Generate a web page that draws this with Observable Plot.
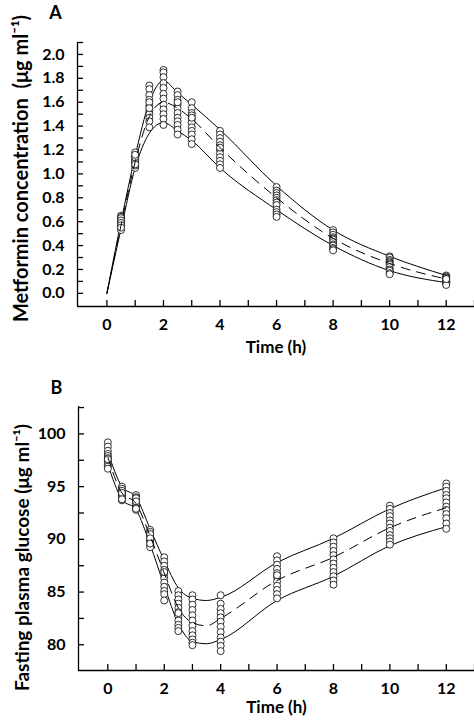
<!DOCTYPE html>
<html><head><meta charset="utf-8">
<script src="https://cdn.jsdelivr.net/npm/d3@7"></script>
<script src="https://cdn.jsdelivr.net/npm/@observablehq/plot@0.6"></script>
<style>
body{margin:0;background:#fff;}
#chart{position:relative;width:474px;height:722px;background:#fff;}
#chart svg{display:block;}
</style></head><body><div id="chart"></div>
<script>
// ---------- Panel A : metformin concentration ----------
const timesA = [0.5, 1, 1.5, 2, 2.5, 3, 4, 6, 8, 10, 12];
const concA = [
  [0.65, 0.64, 0.62, 0.60, 0.58, 0.56, 0.53, 0.63, 0.61, 0.59, 0.57, 0.55],
  [1.18, 1.15, 1.13, 1.11, 1.09, 1.05, 1.12, 1.10, 1.14, 1.07, 1.16, 1.08],
  [1.74, 1.71, 1.66, 1.62, 1.57, 1.53, 1.50, 1.47, 1.44, 1.39, 1.60, 1.55],
  [1.87, 1.85, 1.81, 1.76, 1.72, 1.67, 1.63, 1.58, 1.54, 1.50, 1.46, 1.41],
  [1.69, 1.66, 1.62, 1.58, 1.55, 1.51, 1.47, 1.44, 1.41, 1.37, 1.33, 1.60],
  [1.60, 1.55, 1.51, 1.49, 1.46, 1.43, 1.39, 1.36, 1.33, 1.29, 1.25, 1.47],
  [1.36, 1.33, 1.30, 1.27, 1.24, 1.20, 1.17, 1.14, 1.11, 1.08, 1.05, 1.22],
  [0.89, 0.86, 0.84, 0.82, 0.80, 0.78, 0.76, 0.74, 0.70, 0.68, 0.66, 0.64],
  [0.53, 0.51, 0.49, 0.47, 0.46, 0.45, 0.43, 0.41, 0.40, 0.38, 0.37, 0.36],
  [0.31, 0.30, 0.28, 0.27, 0.26, 0.25, 0.24, 0.22, 0.20, 0.19, 0.17, 0.16],
  [0.15, 0.14, 0.13, 0.13, 0.12, 0.11, 0.10, 0.10, 0.09, 0.08, 0.07, 0.12]
];
const lineTimesA = [0, 0.5, 1, 1.5, 2, 2.5, 3, 4, 6, 8, 10, 12];
const upperA = [0, 0.60, 1.15, 1.60, 1.78, 1.68, 1.58, 1.37, 0.90, 0.53, 0.31, 0.15];
const meanA  = [0, 0.57, 1.10, 1.48, 1.60, 1.55, 1.46, 1.22, 0.80, 0.46, 0.25, 0.12];
const lowerA = [0, 0.54, 1.05, 1.34, 1.43, 1.36, 1.28, 1.05, 0.70, 0.40, 0.19, 0.09];
const yTicksA = [0, 0.2, 0.4, 0.6, 0.8, 1.0, 1.2, 1.4, 1.6, 1.8, 2.0];
const yMinorA = [0, 0.1, 0.2, 0.3, 0.4, 0.5, 0.6, 0.7, 0.8, 0.9, 1.0, 1.1, 1.2, 1.3, 1.4, 1.5, 1.6, 1.7, 1.8, 1.9, 2.0, 2.1];
const yDomainA = [-0.11, 2.1];
const yLabelA = "Metformin concentration  (μg ml\u207B\u00B9)";

// ---------- Panel B : fasting plasma glucose ----------
const timesB = [0, 0.5, 1, 1.5, 2, 2.5, 3, 4, 6, 8, 10, 12];
const glucB = [
  [99.2, 98.8, 98.4, 98.1, 97.9, 97.7, 97.5, 97.3, 97.1, 96.9, 96.7, 97.6],
  [95.0, 94.8, 94.5, 94.3, 94.1, 93.9, 93.7, 94.6, 94.2, 94.0, 94.4, 93.8],
  [94.2, 94.0, 93.7, 93.5, 93.3, 93.1, 92.8, 93.9, 93.4, 93.0, 93.6, 92.9],
  [90.9, 90.7, 90.4, 90.2, 90.0, 89.8, 89.5, 89.25, 90.5, 89.9, 90.1, 89.6],
  [88.3, 87.9, 87.5, 87.1, 86.7, 86.3, 85.9, 85.5, 85.1, 84.8, 84.2, 86.9],
  [85.1, 84.7, 84.3, 83.9, 83.5, 83.1, 82.7, 82.3, 81.9, 81.6, 81.3, 83.0],
  [84.7, 84.3, 83.8, 83.3, 82.8, 82.3, 81.8, 81.3, 80.9, 80.5, 80.2, 79.96],
  [84.7, 83.9, 83.4, 83.0, 82.6, 82.2, 81.7, 81.2, 80.7, 80.3, 79.9, 79.4],
  [88.4, 88.0, 87.6, 87.2, 86.8, 86.4, 86.0, 85.6, 85.2, 84.8, 84.4, 86.6],
  [90.1, 89.7, 89.3, 88.9, 88.5, 88.1, 87.7, 87.3, 86.9, 86.5, 86.1, 85.7],
  [93.2, 92.9, 92.5, 92.2, 91.8, 91.5, 91.1, 90.8, 90.4, 90.1, 89.8, 89.5],
  [95.3, 95.0, 94.6, 94.2, 93.9, 93.5, 93.1, 92.8, 92.4, 92.0, 91.5, 91.0]
];
const lineTimesB = [0, 0.5, 1, 1.5, 2, 2.5, 3, 3.5, 4, 6, 8, 10, 12];
const upperB = [98.3, 95.0, 94.0, 91.0, 88.0, 85.4, 84.4, 84.2, 84.5, 87.8, 90.1, 92.9, 94.9];
const meanB  = [97.8, 94.4, 93.4, 90.3, 86.8, 83.5, 82.1, 81.8, 82.5, 86.1, 88.3, 91.1, 93.0];
const lowerB = [97.1, 93.8, 92.8, 89.5, 85.6, 82.0, 80.3, 80.1, 80.5, 84.2, 86.5, 89.4, 91.2];
const yTicksB = [80, 85, 90, 95, 100];
const yMinorB = [80, 82.5, 85, 87.5, 90, 92.5, 95, 97.5, 100, 102.5];
const yDomainB = [77.56, 102.6];
const yLabelB = "Fasting plasma glucose (μg ml\u207B\u00B9)";

// ---------- shared x axis ----------
const xTicks = [0, 2, 4, 6, 8, 10, 12];
const xMinor = [0, 1, 2, 3, 4, 5, 6, 7, 8, 9, 10, 11, 12, 13];
const xDomain = [-1.04, 13];
const xLabel = "Time (h)";

const FONT = "Lato, 'Open Sans', sans-serif";
const W = 474;

function panel(o) {
  const pts = o.times.flatMap((t, i) => o.vals[i].map(v => ({t, v})));
  const mk = arr => o.lineTimes.map((t, i) => ({t, v: arr[i]}));
  return Plot.plot({
    width: W, height: o.height,
    marginLeft: o.ml, marginRight: 0, marginTop: o.mt, marginBottom: o.mb,
    x: {domain: xDomain},
    y: {domain: o.yDomain},
    style: {fontFamily: FONT, background: "white", color: "black", overflow: "visible"},
    marks: [
      Plot.ruleX([xDomain[0]], {stroke: "black", strokeWidth: 1.3}),
      Plot.ruleY([o.yDomain[0]], {stroke: "black", strokeWidth: 1.3}),
      Plot.axisX(xMinor, {tickSize: 6, dy: -6, tickFormat: () => "", stroke: "black", strokeWidth: 1.3, label: null}),
      Plot.axisY(o.yMinor, {tickSize: 6, dx: 6, tickFormat: () => "", stroke: "black", strokeWidth: 1.3, label: null}),
      Plot.axisX(xTicks, {tickSize: 0, tickPadding: o.xPad, fontSize: 16, fontWeight: "bold", label: null}),
      Plot.axisY(o.yTicks, {tickSize: 0, tickPadding: 13, fontSize: 16, fontWeight: "bold", tickFormat: o.fmt, label: null}),
      Plot.line(mk(o.upper), {x: "t", y: "v", curve: "monotone-x", stroke: "black", strokeWidth: 1}),
      Plot.line(mk(o.lower), {x: "t", y: "v", curve: "monotone-x", stroke: "black", strokeWidth: 1}),
      Plot.dot(pts, {x: "t", y: "v", r: 3.5, fill: "white", stroke: "black", strokeWidth: 0.8}),
      Plot.line(mk(o.mean), {x: "t", y: "v", curve: "monotone-x", stroke: "black", strokeWidth: 1, strokeDasharray: "9,7"}),
      Plot.text([o.yLabel], {text: d => d, frameAnchor: "left", rotate: -90, dx: -56, dy: o.yLabelDy, fontSize: o.yLabelSize, fontWeight: "bold", textAnchor: "middle"}),
      Plot.text([xLabel], {text: d => d, frameAnchor: "bottom", dy: o.xLabelDy, fontSize: 17, fontWeight: "bold", textAnchor: "middle"}),
      Plot.text([o.tag], {text: d => d, frameAnchor: "top-left", dx: -22, dy: o.tagDy, fontSize: 18, fontWeight: "bold", textAnchor: "middle"})
    ]
  });
}

const chart = document.getElementById("chart");
chart.append(panel({
  times: timesA, vals: concA, lineTimes: lineTimesA, upper: upperA, mean: meanA, lower: lowerA,
  yTicks: yTicksA, yMinor: yMinorA, yDomain: yDomainA, fmt: d3.format(".1f"), yLabel: yLabelA, yLabelSize: 20,
  height: 360, ml: 77, mt: 42, mb: 54, xPad: 12, yLabelDy: -6, xLabelDy: 46, tag: "A", tagDy: -36
}));
chart.append(panel({
  times: timesB, vals: glucB, lineTimes: lineTimesB, upper: upperB, mean: meanB, lower: lowerB,
  yTicks: yTicksB, yMinor: yMinorB, yDomain: yDomainB, fmt: d3.format("d"), yLabel: yLabelB, yLabelSize: 19,
  height: 362, ml: 78, mt: 46, mb: 52, xPad: 12, yLabelDy: 19, xLabelDy: 42, tag: "B", tagDy: -25
}));
</script></body></html>
